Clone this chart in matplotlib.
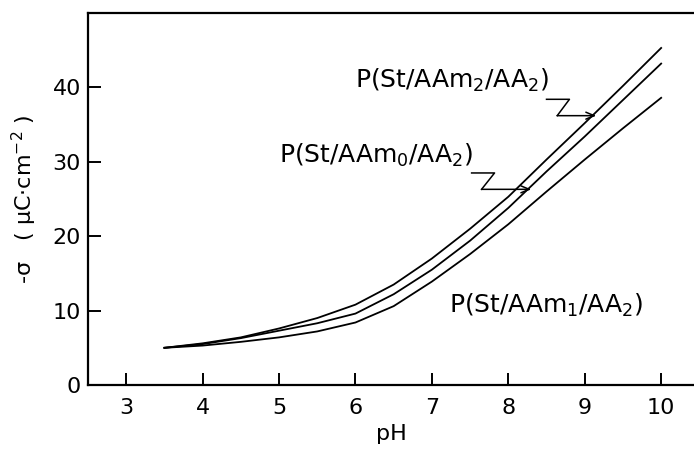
import matplotlib
matplotlib.use("Agg")
import matplotlib.pyplot as plt

# data
ph = [3.5, 4.0, 4.5, 5.0, 5.5, 6.0, 6.5, 7.0, 7.5, 8.0, 8.5, 9.0, 9.5, 10.0]
sigma_aam2 = [5.0, 5.6, 6.4, 7.6, 9.0, 10.8, 13.5, 17.0, 21.0, 25.3, 30.3, 35.2, 40.2, 45.3]
sigma_aam0 = [5.0, 5.5, 6.3, 7.3, 8.3, 9.6, 12.2, 15.5, 19.4, 23.8, 28.7, 33.4, 38.3, 43.2]
sigma_aam1 = [5.0, 5.3, 5.8, 6.4, 7.2, 8.4, 10.6, 13.9, 17.6, 21.6, 26.0, 30.3, 34.5, 38.6]

x_ticks = [3, 4, 5, 6, 7, 8, 9, 10]
y_ticks = [0, 10, 20, 30, 40]

label_aam2 = r"P(St/AAm$_2$/AA$_2$)"
label_aam0 = r"P(St/AAm$_0$/AA$_2$)"
label_aam1 = r"P(St/AAm$_1$/AA$_2$)"

# zig-zag arrow paths (data coords)
arrow2_x = [8.50, 8.80, 8.64, 9.15]
arrow2_y = [38.4, 38.4, 36.2, 36.2]
arrow0_x = [7.52, 7.82, 7.65, 8.30]
arrow0_y = [28.5, 28.5, 26.3, 26.3]

fig = plt.figure(figsize=(6.94, 4.55), dpi=100)
ax = fig.add_axes([88/694, 1-385/455, 1-88/694, (385-13)/455])

lw = 1.3
ax.plot(ph, sigma_aam2, color="black", lw=lw)
ax.plot(ph, sigma_aam0, color="black", lw=lw)
ax.plot(ph, sigma_aam1, color="black", lw=lw)

for xs, ys in [(arrow2_x, arrow2_y), (arrow0_x, arrow0_y)]:
    ax.plot(xs[:-1], ys[:-1], color="black", lw=1.1)
    ax.annotate("", xy=(xs[-1], ys[-1]), xytext=(xs[-2], ys[-2]),
                arrowprops=dict(arrowstyle="->,head_length=0.6,head_width=0.25",
                                color="black", lw=1.1, shrinkA=0, shrinkB=0))

fs_lab = 18
ax.text(6.0, 39.9, label_aam2, fontsize=fs_lab, va="baseline", ha="left")
ax.text(5.0, 29.8, label_aam0, fontsize=fs_lab, va="baseline", ha="left")
ax.text(7.23, 9.7, label_aam1, fontsize=fs_lab, va="baseline", ha="left")

ax.set_xlim(2.5, 10.43)
ax.set_ylim(0, 50)
ax.set_xticks(x_ticks)
ax.set_yticks(y_ticks)
ax.tick_params(direction="in", length=9, width=1.4, labelsize=16, pad=5)
ax.tick_params(axis="x", pad=9)
for s in ["left", "bottom", "top"]:
    ax.spines[s].set_linewidth(1.6)
ax.spines["right"].set_visible(False)

ax.set_xlabel("pH", fontsize=16, labelpad=5)
ax.set_ylabel("-σ   ( μC·cm$^{-2}$ )", fontsize=16, labelpad=10)

fig.savefig("out.png", dpi=100)
